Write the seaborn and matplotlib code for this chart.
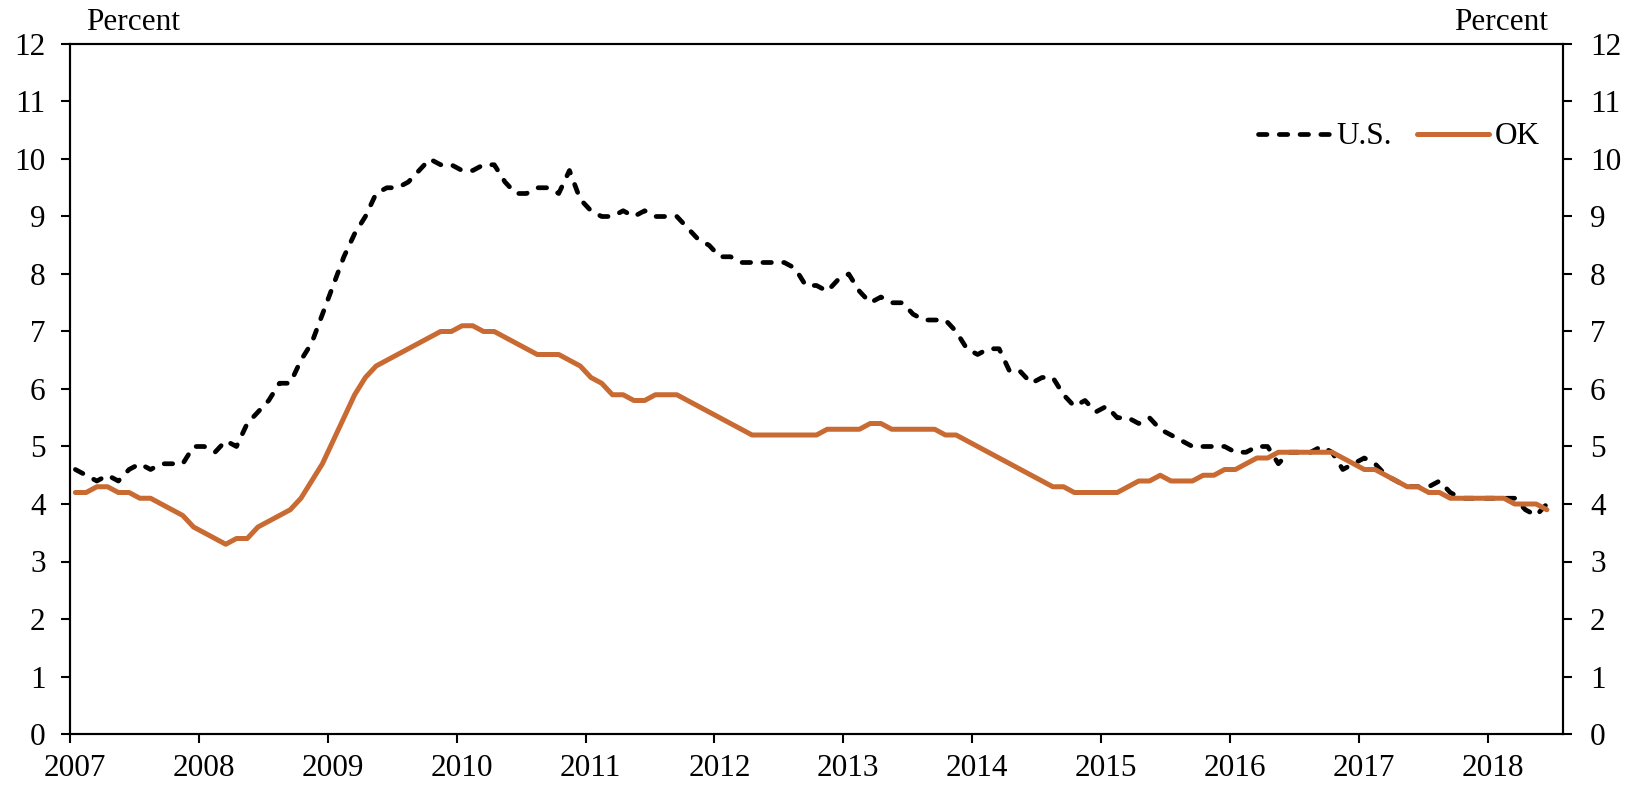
import numpy as np
import pandas as pd
import matplotlib
matplotlib.use("Agg")
import matplotlib.pyplot as plt
import matplotlib.transforms as mtransforms
import seaborn as sns

# ---------------- data (monthly, Jan 2007 - Jun 2018) ----------------
start_year = 2007
us_rate = [
    4.6, 4.5, 4.4, 4.5, 4.4, 4.6, 4.7, 4.6, 4.7, 4.7, 4.7, 5.0,   # 2007
    5.0, 4.9, 5.1, 5.0, 5.4, 5.6, 5.8, 6.1, 6.1, 6.5, 6.8, 7.3,   # 2008
    7.8, 8.3, 8.7, 9.0, 9.4, 9.5, 9.5, 9.6, 9.8, 10.0, 9.9, 9.9,  # 2009
    9.8, 9.8, 9.9, 9.9, 9.6, 9.4, 9.4, 9.5, 9.5, 9.4, 9.8, 9.3,   # 2010
    9.1, 9.0, 9.0, 9.1, 9.0, 9.1, 9.0, 9.0, 9.0, 8.8, 8.6, 8.5,   # 2011
    8.3, 8.3, 8.2, 8.2, 8.2, 8.2, 8.2, 8.1, 7.8, 7.8, 7.7, 7.9,   # 2012
    8.0, 7.7, 7.5, 7.6, 7.5, 7.5, 7.3, 7.2, 7.2, 7.2, 7.0, 6.7,   # 2013
    6.6, 6.7, 6.7, 6.3, 6.3, 6.1, 6.2, 6.2, 5.9, 5.7, 5.8, 5.6,   # 2014
    5.7, 5.5, 5.5, 5.4, 5.5, 5.3, 5.2, 5.1, 5.0, 5.0, 5.0, 5.0,   # 2015
    4.9, 4.9, 5.0, 5.0, 4.7, 4.9, 4.9, 4.9, 5.0, 4.9, 4.6, 4.7,   # 2016
    4.8, 4.7, 4.5, 4.4, 4.3, 4.3, 4.3, 4.4, 4.2, 4.1, 4.1, 4.1,   # 2017
    4.1, 4.1, 4.1, 3.9, 3.8, 4.0,                                 # 2018
]
ok_rate = [
    4.2, 4.2, 4.3, 4.3, 4.2, 4.2, 4.1, 4.1, 4.0, 3.9, 3.8, 3.6,   # 2007
    3.5, 3.4, 3.3, 3.4, 3.4, 3.6, 3.7, 3.8, 3.9, 4.1, 4.4, 4.7,   # 2008
    5.1, 5.5, 5.9, 6.2, 6.4, 6.5, 6.6, 6.7, 6.8, 6.9, 7.0, 7.0,   # 2009
    7.1, 7.1, 7.0, 7.0, 6.9, 6.8, 6.7, 6.6, 6.6, 6.6, 6.5, 6.4,   # 2010
    6.2, 6.1, 5.9, 5.9, 5.8, 5.8, 5.9, 5.9, 5.9, 5.8, 5.7, 5.6,   # 2011
    5.5, 5.4, 5.3, 5.2, 5.2, 5.2, 5.2, 5.2, 5.2, 5.2, 5.3, 5.3,   # 2012
    5.3, 5.3, 5.4, 5.4, 5.3, 5.3, 5.3, 5.3, 5.3, 5.2, 5.2, 5.1,   # 2013
    5.0, 4.9, 4.8, 4.7, 4.6, 4.5, 4.4, 4.3, 4.3, 4.2, 4.2, 4.2,   # 2014
    4.2, 4.2, 4.3, 4.4, 4.4, 4.5, 4.4, 4.4, 4.4, 4.5, 4.5, 4.6,   # 2015
    4.6, 4.7, 4.8, 4.8, 4.9, 4.9, 4.9, 4.9, 4.9, 4.9, 4.8, 4.7,   # 2016
    4.6, 4.6, 4.5, 4.4, 4.3, 4.3, 4.2, 4.2, 4.1, 4.1, 4.1, 4.1,   # 2017
    4.1, 4.1, 4.0, 4.0, 4.0, 3.9,                                 # 2018
]
series_names = ["U.S.", "OK"]
year_ticks = list(range(2007, 2019))
y_ticks = list(range(0, 13))

# ---------------- build frame ----------------
months = np.arange(len(us_rate))
x = start_year + (months + 0.5) / 12.0
df = pd.DataFrame({"date": x, series_names[0]: us_rate, series_names[1]: ok_rate})

# ---------------- style ----------------
sns.set_style("ticks")
plt.rcParams["font.family"] = ["Liberation Serif", "DejaVu Serif"]
FS = 22.5
plt.rcParams.update({
    "font.size": FS,
    "axes.edgecolor": "black",
    "axes.linewidth": 1.5,
    "xtick.color": "black",
    "ytick.color": "black",
    "text.color": "black",
    "axes.labelcolor": "black",
    "xtick.direction": "out",
    "ytick.direction": "out",
})

W, H = 1634, 787
fig = plt.figure(figsize=(W / 100, H / 100), dpi=100)
L, R, T, B = 70, 1563, 44, 734
ax = fig.add_axes([L / W, 1 - B / H, (R - L) / W, (B - T) / H])

orange = "#C86A32"
sns.lineplot(data=df, x="date", y=series_names[0], ax=ax, color="black",
             lw=3.4, ls=(0, (1.8, 2.6)), dash_capstyle="round", label=series_names[0])
sns.lineplot(data=df, x="date", y=series_names[1], ax=ax, color=orange,
             lw=3.6, solid_capstyle="round", solid_joinstyle="round", label=series_names[1])

ax.set_xlim(start_year, start_year + 139 / 12.0)
ax.set_ylim(0, 12)
ax.set_xticks(year_ticks)
ax.set_xticklabels([str(y) for y in year_ticks])
ax.set_yticks(y_ticks)
ax.set_xlabel("")
ax.set_ylabel("")
ax.tick_params(axis="x", length=6.7, width=1.5, pad=7.5, labelsize=FS)
ax.tick_params(axis="y", length=6.5, width=1.5, pad=11, labelsize=FS)

# year labels sit slightly right of their ticks in the reference
shift = mtransforms.ScaledTranslation(5 / 100, 0, fig.dpi_scale_trans)
for lab in ax.get_xticklabels():
    lab.set_transform(lab.get_transform() + shift)

ax2 = ax.twinx()
ax2.set_ylim(0, 12)
ax2.set_yticks(y_ticks)
ax2.tick_params(axis="y", length=6.5, width=1.5, pad=13, labelsize=FS)
ax2.grid(False)

leg = ax.legend(ncol=2, frameon=False, loc="center right",
                bbox_to_anchor=(1540 / W, 1 - 137 / H), bbox_transform=fig.transFigure,
                handlelength=2.3, handletextpad=0.2, columnspacing=0.8,
                borderpad=0, borderaxespad=0, fontsize=FS)

fig.text(86.5 / W, 1 - 30 / H, "Percent", ha="left", va="baseline", fontsize=FS)
fig.text(1548 / W, 1 - 30 / H, "Percent", ha="right", va="baseline", fontsize=FS)

fig.savefig("out.png", dpi=100)
